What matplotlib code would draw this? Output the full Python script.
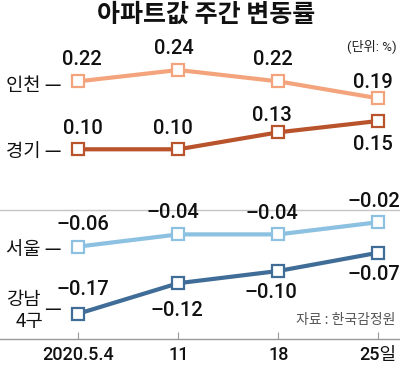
import matplotlib
matplotlib.use('Agg')
import matplotlib.pyplot as plt

plt.rcParams['font.family'] = ['Roboto', 'Liberation Sans', 'Noto Sans CJK KR']
plt.rcParams['axes.unicode_minus'] = False

# 데이터
dates = ['2020.5.4', '11', '18', '25일']
incheon = [0.22, 0.24, 0.22, 0.19]
gyeonggi = [0.10, 0.10, 0.13, 0.15]
seoul = [-0.06, -0.04, -0.04, -0.02]
gangnam = [-0.17, -0.12, -0.10, -0.07]

# 라벨 위치 (픽셀 오프셋)
off_incheon = [(4, 22), (-4, 22), (-5, 22), (-5, 16)]
off_gyeonggi = [(5, 21), (-5, 21), (-6, 17), (-5, -24)]
off_seoul = [(5, 22), (-5, 22), (-6, 21), (-4, 21)]
off_gangnam = [(5, 24), (-1, -27), (-7, -22), (-4, -22)]

W, H = 400, 368
fig = plt.figure(figsize=(W / 100, H / 100), dpi=100)
fig.patch.set_facecolor('white')

def fy(py):
    return 1 - py / H

ax_up = fig.add_axes([0, fy(210), 1, (210 - 40) / H])
ax_lo = fig.add_axes([0, fy(339), 1, (339 - 210) / H])

x = list(range(len(dates)))
for ax in (ax_up, ax_lo):
    ax.set_xlim(-0.783, 3.217)
    ax.patch.set_alpha(0)
    for s in ax.spines.values():
        s.set_visible(False)
    ax.set_yticks([])

ax_up.set_ylim(-0.0072, 0.293)
ax_lo.set_ylim(-0.2115, 0.0)
ax_up.set_xticks([])

ax_lo.spines['top'].set_visible(True)
ax_lo.spines['top'].set_color('#c4c4c4')
ax_lo.spines['top'].set_linewidth(1.0)
ax_lo.spines['bottom'].set_visible(True)
ax_lo.spines['bottom'].set_color('#9a9a9a')
ax_lo.spines['bottom'].set_linewidth(1.0)
ax_lo.set_xticks(x)
ax_lo.set_xticklabels(dates, fontsize=13, color='#111111', fontweight='medium')
ax_lo.tick_params(axis='x', direction='in', length=5, width=0.8,
                  color='#9a9a9a', pad=5)

def draw(ax, vals, color, offs):
    ax.plot(x, vals, color=color, linewidth=3, marker='s', markersize=8,
            markerfacecolor='white', markeredgecolor=color,
            markeredgewidth=1.6, zorder=3, clip_on=False)
    for xi, v, (dx, dy) in zip(x, vals, offs):
        txt = ('%.2f' % v).replace('-', '–')
        ax.annotate(txt, (xi, v), xytext=(dx, dy), textcoords='offset pixels',
                    ha='center', va='center', fontsize=14.5, color='#111111',
                    fontweight='medium')

draw(ax_up, incheon, '#F4A47C', off_incheon)
draw(ax_up, gyeonggi, '#B8532C', off_gyeonggi)
draw(ax_lo, seoul, '#8CC1E1', off_seoul)
draw(ax_lo, gangnam, '#3F6D97', off_gangnam)

# 제목, 단위, 자료
fig.text(0.515, fy(15), '아파트값 주간 변동률', ha='center', va='center',
         fontsize=18, fontweight='bold', color='#111111',
         family=['Noto Sans CJK KR'])
fig.text(397 / W, fy(46), '(단위: %)', ha='right', va='center',
         fontsize=9.5, color='#222222')
fig.text(395 / W, fy(320), '자료 : 한국감정원', ha='right', va='center',
         fontsize=10, color='#555555', family=['Noto Sans CJK KR'])

# 시리즈 이름
lbl = dict(ha='left', va='center', fontsize=13.5, color='#111111',
           family=['Noto Sans CJK KR'])
fig.text(6 / W, fy(85), '인천 —', **lbl)
fig.text(6 / W, fy(151), '경기 —', **lbl)
fig.text(6 / W, fy(250), '서울 —', **lbl)
fig.text(6 / W, fy(299), '강남', **lbl)
fig.text(16 / W, fy(322), '4구', **lbl)
fig.text(44 / W, fy(309), '—', **lbl)

fig.savefig('out.png', dpi=100)
